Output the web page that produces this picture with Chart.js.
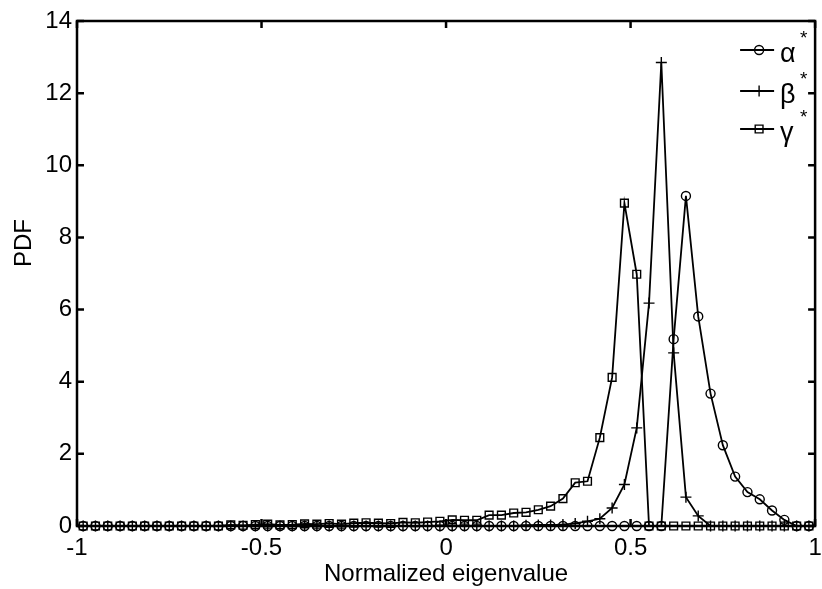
<!DOCTYPE html>
<html>
<head>
<meta charset="utf-8">
<script src="https://cdn.jsdelivr.net/npm/chart.js@4.4.0/dist/chart.umd.min.js"></script>
<style>
  html, body { margin: 0; padding: 0; background: #fff; }
  #wrap { width: 822px; height: 589px; }
</style>
</head>
<body>
<div id="wrap"><canvas id="grafica-pdf"></canvas></div>
<script>
// Centros de clase (eigenvalor normalizado)
const eigenvalores = [
  -0.9833, -0.95, -0.9167, -0.8833, -0.85, -0.8167, -0.7833, -0.75, -0.7167, -0.6833,
  -0.65, -0.6167, -0.5833, -0.55, -0.5167, -0.4833, -0.45, -0.4167, -0.3833, -0.35,
  -0.3167, -0.2833, -0.25, -0.2167, -0.1833, -0.15, -0.1167, -0.0833, -0.05, -0.0167,
  0.0167, 0.05, 0.0833, 0.1167, 0.15, 0.1833, 0.2167, 0.25, 0.2833, 0.3167,
  0.35, 0.3833, 0.4167, 0.45, 0.4833, 0.5167, 0.55, 0.5833, 0.6167, 0.65,
  0.6833, 0.7167, 0.75, 0.7833, 0.8167, 0.85, 0.8833, 0.9167, 0.95, 0.9833
];

// PDF de cada serie
const alphaPdf = [
  0, 0, 0, 0, 0, 0, 0, 0, 0, 0,
  0, 0, 0, 0, 0, 0, 0, 0, 0, 0,
  0, 0, 0, 0, 0, 0, 0, 0, 0, 0,
  0, 0, 0, 0, 0, 0, 0, 0, 0, 0,
  0, 0, 0, 0, 0, 0, 0, 0, 5.18, 9.15,
  5.81, 3.67, 2.24, 1.37, 0.94, 0.74, 0.43, 0.17, 0, 0
];
const betaPdf = [
  0, 0, 0, 0, 0, 0, 0, 0, 0, 0,
  0, 0, 0, 0, 0, 0, 0, 0, 0, 0,
  0, 0, 0, 0, 0, 0, 0, 0, 0, 0,
  0, 0, 0, 0, 0, 0, 0.02, 0.03, 0.03, 0.04,
  0.07, 0.13, 0.2, 0.5, 1.15, 2.72, 6.18, 12.85, 4.8, 0.8,
  0.28, 0, 0, 0, 0, 0, 0, 0, 0, 0
];
const gammaPdf = [
  0, 0, 0, 0, 0, 0, 0, 0, 0, 0,
  0, 0, 0.03, 0.02, 0.04, 0.05, 0.03, 0.04, 0.06, 0.05,
  0.07, 0.05, 0.08, 0.09, 0.08, 0.07, 0.1, 0.09, 0.11, 0.13,
  0.17, 0.16, 0.16, 0.3, 0.3, 0.36, 0.38, 0.45, 0.55, 0.76,
  1.2, 1.24, 2.45, 4.12, 8.95, 6.98, 0, 0, 0, 0,
  0, 0, 0, 0, 0, 0, 0, 0, 0, 0
];

const nombres = ['α', 'β', 'γ'];
const marcadores = ['circle', 'cross', 'rect'];
const radios = [4.5, 5.5, 5.5];
const ticksX = [-1, -0.5, 0, 0.5, 1];
const ticksY = [0, 2, 4, 6, 8, 10, 12, 14];

const fuente = '"Liberation Sans", Arial, sans-serif';

function serie(valores, i) {
  return {
    label: nombres[i] + '*',
    data: eigenvalores.map((x, k) => ({ x: x, y: valores[k] })),
    showLine: true,
    borderColor: '#000',
    borderWidth: 1.8,
    pointStyle: marcadores[i],
    pointRadius: radios[i],
    pointBorderColor: '#000',
    pointBackgroundColor: 'rgba(0,0,0,0)',
    pointBorderWidth: 1.4,
    clip: false
  };
}

// Marco, ticks interiores, leyenda y etiqueta PDF
const marco = {
  id: 'marco',
  afterDraw(chart) {
    const { ctx, chartArea: a, scales } = chart;
    ctx.save();
    ctx.strokeStyle = '#000';
    ctx.lineWidth = 2.5;
    ctx.strokeRect(a.left, a.top, a.right - a.left, a.bottom - a.top);
    ctx.beginPath();
    scales.x.ticks.forEach(t => {
      const px = scales.x.getPixelForValue(t.value);
      ctx.moveTo(px, a.bottom); ctx.lineTo(px, a.bottom - 7);
      ctx.moveTo(px, a.top); ctx.lineTo(px, a.top + 7);
    });
    scales.y.ticks.forEach(t => {
      const py = scales.y.getPixelForValue(t.value);
      ctx.moveTo(a.left, py); ctx.lineTo(a.left + 7, py);
      ctx.moveTo(a.right, py); ctx.lineTo(a.right - 7, py);
    });
    ctx.stroke();

    // leyenda
    const filas = [50, 91, 129];
    filas.forEach((y, i) => {
      ctx.strokeStyle = '#000';
      ctx.lineWidth = 1.8;
      ctx.beginPath();
      ctx.moveTo(a.right - 75, y);
      ctx.lineTo(a.right - 41, y);
      ctx.stroke();
      ctx.fillStyle = 'rgba(0,0,0,0)';
      ctx.lineWidth = 1.4;
      Chart.helpers.drawPoint(ctx, { pointStyle: marcadores[i], radius: radios[i], borderWidth: 1.4 }, a.right - 56, y);
      ctx.fillStyle = '#000';
      ctx.textBaseline = 'middle';
      ctx.textAlign = 'left';
      ctx.font = '27px ' + fuente;
      ctx.fillText(nombres[i], a.right - 35, y + 5);
      ctx.font = '19px ' + fuente;
      ctx.fillText('*', a.right - 15, y - 11);
    });

    // etiqueta eje y
    ctx.save();
    ctx.translate(24, 243);
    ctx.rotate(-Math.PI / 2);
    ctx.textAlign = 'center';
    ctx.textBaseline = 'middle';
    ctx.font = '24px ' + fuente;
    ctx.fillStyle = '#000';
    ctx.fillText('PDF', 0, 0);
    ctx.restore();
    ctx.restore();
  }
};

new Chart(document.getElementById('grafica-pdf').getContext('2d'), {
  type: 'scatter',
  data: {
    datasets: [serie(alphaPdf, 0), serie(betaPdf, 1), serie(gammaPdf, 2)]
  },
  options: {
    responsive: true,
    maintainAspectRatio: false,
    animation: false,
    layout: { padding: { top: 21, right: 4, left: 0, bottom: 0 } },
    plugins: {
      legend: { display: false },
      tooltip: { enabled: false }
    },
    scales: {
      x: {
        type: 'linear',
        min: -1,
        max: 1,
        afterBuildTicks: s => { s.ticks = ticksX.map(v => ({ value: v })); },
        afterFit: s => { s.height = 63; s.paddingLeft = 0; s.paddingRight = 0; },
        grid: { display: false, drawTicks: false },
        border: { display: false },
        ticks: { color: '#000', font: { family: fuente, size: 24 }, padding: 8, maxRotation: 0, callback: v => String(v) },
        title: { display: true, text: 'Normalized eigenvalue', color: '#000', font: { family: fuente, size: 24 }, padding: { top: 0, bottom: 0 } }
      },
      y: {
        type: 'linear',
        min: 0,
        max: 14,
        afterBuildTicks: s => { s.ticks = ticksY.map(v => ({ value: v })); },
        afterFit: s => { s.width = 77; s.paddingTop = 0; s.paddingBottom = 0; },
        grid: { display: false, drawTicks: false },
        border: { display: false },
        ticks: { color: '#000', font: { family: fuente, size: 24 }, padding: 5, callback: v => String(v) }
      }
    }
  },
  plugins: [marco]
});
</script>
</body>
</html>
